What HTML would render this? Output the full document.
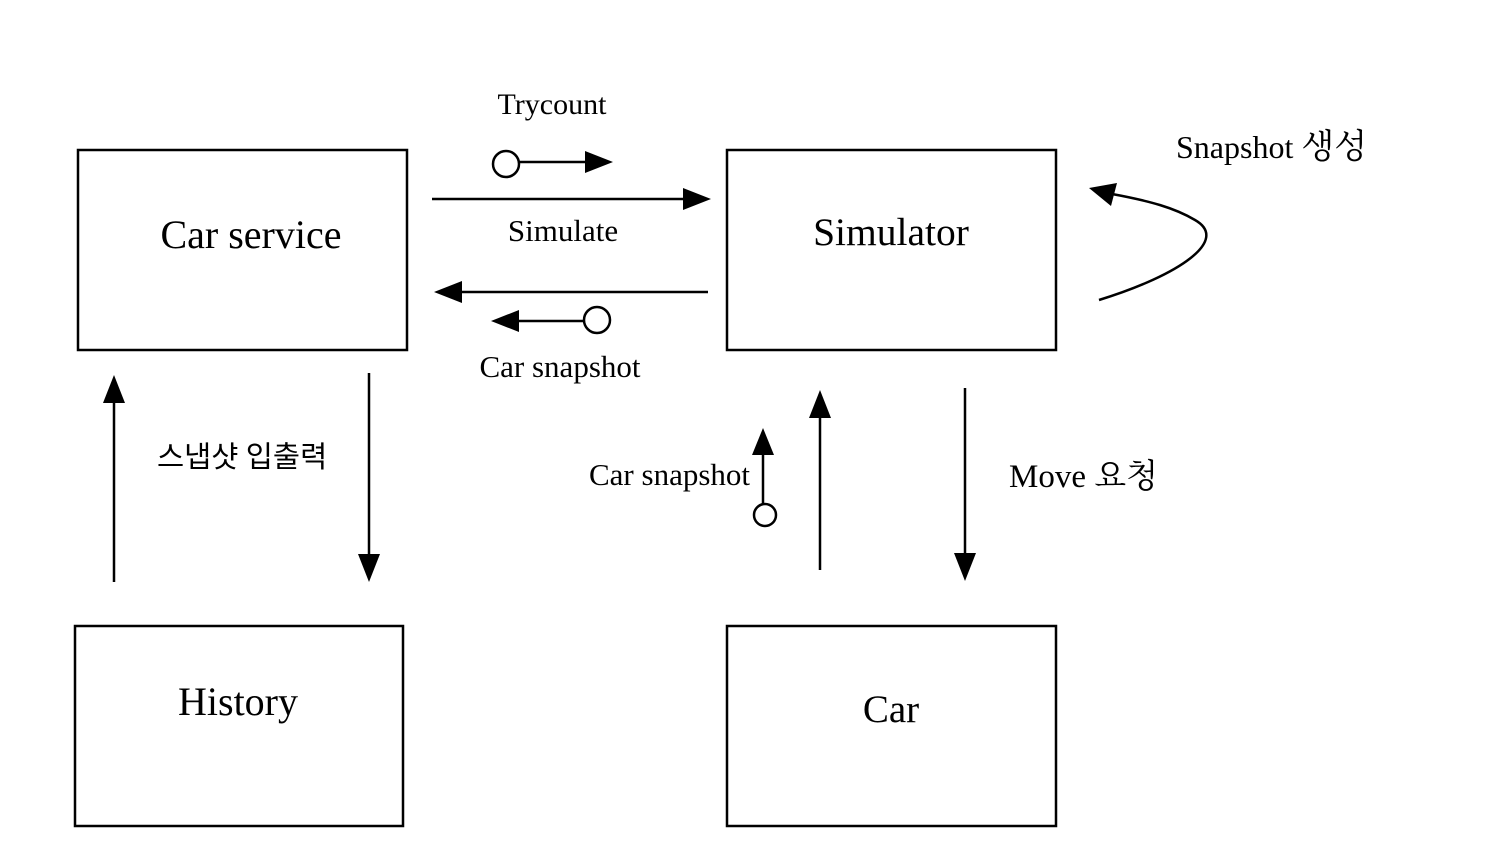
<!DOCTYPE html>
<html><head><meta charset="utf-8">
<style>
html,body{margin:0;padding:0;background:#fff;}
svg{display:block;}
text{font-family:"Liberation Serif","Noto Serif CJK SC","Noto Sans CJK KR",serif;fill:#000;}
.k{font-family:"Liberation Serif","Noto Sans CJK KR",sans-serif;}
</style></head>
<body>
<svg width="1489" height="859" viewBox="0 0 1489 859" xmlns="http://www.w3.org/2000/svg">
<g stroke="#000" stroke-width="2.5" fill="none">
  <rect x="78" y="150" width="329" height="200"/>
  <rect x="727" y="150" width="329" height="200"/>
  <rect x="75" y="626" width="328" height="200"/>
  <rect x="727" y="626" width="329" height="200"/>
</g>
<text x="251" y="248" font-size="40" text-anchor="middle">Car service</text>
<text x="891" y="245" font-size="39.5" text-anchor="middle">Simulator</text>
<text x="238" y="715" font-size="40" text-anchor="middle">History</text>
<text x="891" y="722" font-size="39" text-anchor="middle">Car</text>

<g stroke="#000" stroke-width="2.5" fill="none">
  <circle cx="506" cy="164" r="13"/>
  <line x1="519" y1="162" x2="588" y2="162"/>
  <line x1="432" y1="199" x2="686" y2="199"/>
  <line x1="708" y1="292" x2="460" y2="292"/>
  <circle cx="597" cy="320" r="13"/>
  <line x1="584" y1="321" x2="516" y2="321"/>
  <line x1="114" y1="582" x2="114" y2="400"/>
  <line x1="369" y1="373" x2="369" y2="557"/>
  <circle cx="765" cy="515" r="11"/>
  <line x1="763" y1="504" x2="763" y2="452"/>
  <line x1="820" y1="570" x2="820" y2="414"/>
  <line x1="965" y1="388" x2="965" y2="556"/>
  <path d="M1099,300 C1180,275 1230,240 1195,220 C1175,208 1150,201 1112,194"/>
</g>
<g fill="#000">
  <polygon points="613,162 585,151 585,173"/>
  <polygon points="711,199 683,188 683,210"/>
  <polygon points="434,292 462,281 462,303"/>
  <polygon points="491,321 519,310 519,332"/>
  <polygon points="114,375 103,403 125,403"/>
  <polygon points="369,582 358,554 380,554"/>
  <polygon points="763,428 752,455 774,455"/>
  <polygon points="820,390 809,418 831,418"/>
  <polygon points="965,581 954,553 976,553"/>
  <polygon points="1089,188 1117,183 1111,206"/>
</g>

<text x="552" y="114" font-size="30" text-anchor="middle">Trycount</text>
<text x="563" y="241" font-size="31" text-anchor="middle">Simulate</text>
<text x="560" y="377" font-size="31" text-anchor="middle">Car snapshot</text>
<text x="1176" y="158" font-size="32">Snapshot <tspan font-size="34">생성</tspan></text>
<text class="k" x="157" y="467" font-size="29.5">스냅샷 입출력</text>
<text x="589" y="485" font-size="31">Car snapshot</text>
<text x="1009" y="487" font-size="33">Move 요청</text>
</svg>
</body></html>
